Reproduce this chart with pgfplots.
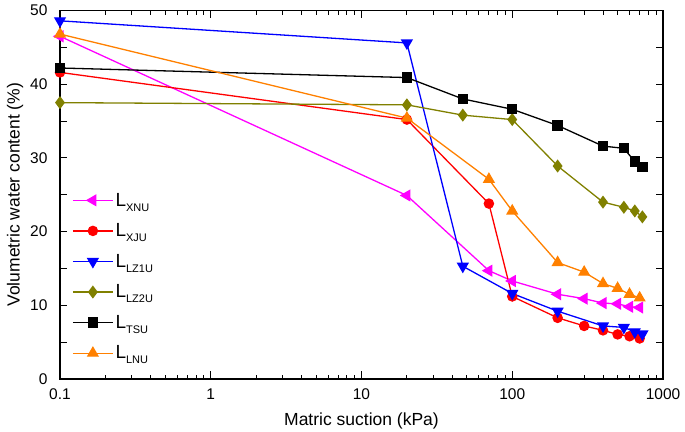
\documentclass[border=0pt]{standalone}
\usepackage{fontspec}
\setmainfont{Liberation Sans}
\usepackage{pgfplots}
\pgfplotsset{compat=1.18}
\definecolor{cmag}{RGB}{255,0,255}
\definecolor{cred}{RGB}{255,0,0}
\definecolor{cblue}{RGB}{0,0,255}
\definecolor{colive}{RGB}{128,128,0}
\definecolor{corange}{RGB}{255,128,0}
\newcommand{\Lsub}[1]{L\raisebox{-0.5ex}{\fontsize{11}{11}\selectfont #1}}
\begin{document}
\begin{tikzpicture}
\begin{axis}[
  scale only axis, width=603pt, height=368.5pt,
  xmode=log, xmin=0.1, xmax=1000, ymin=0, ymax=50,
  xtick={0.1,1,10,100,1000}, xticklabels={0.1,1,10,100,1000},
  ytick={0,5,...,50}, yticklabels={0,,10,,20,,30,,40,,50},
  tick align=inside, ticks=both,
  xtick pos=both, ytick pos=both,
  xticklabel pos=bottom, yticklabel pos=left,
  major tick length=7.5pt, minor tick length=4.3pt,
  every tick/.style={black, line width=1pt},
  axis line style={line width=1.4pt},
  /pgf/number format/assume math mode=true,
  tick label style={font=\fontsize{15.5}{18}\selectfont},
  xticklabel style={yshift=-6pt},
  yticklabel style={xshift=-9pt},
  xlabel={Matric suction (kPa)}, ylabel={Volumetric water content (\%)},
  label style={font=\fontsize{17.5}{20}\selectfont},
  xlabel style={yshift=-6pt},
  ylabel style={yshift=0pt},
  every axis plot/.append style={line width=1.3pt},
  legend image code/.code={\draw[mark repeat=2,mark phase=2] plot coordinates {(0pt,0pt) (20pt,0pt) (40pt,0pt)};},
  legend cell align=left,
  legend style={draw=none, fill=none, at={(0.015,0.516)}, anchor=north west,
    font=\fontsize{19}{21}\selectfont, row sep=12pt},
]
\addplot[cmag, mark=triangle*, mark options={rotate=90, solid}, mark size=5.8pt] coordinates {
(0.1,46.5) (20,24.9) (70,14.7) (100,13.3) (200,11.5) (300,10.9) (400,10.3) (500,10.2) (600,9.8) (700,9.7)};
\addlegendentry{\Lsub{XNU}}
\addplot[cred, mark=*, mark size=4.6pt] coordinates {
(0.1,41.6) (20,35.2) (70,23.8) (100,11.2) (200,8.3) (300,7.2) (400,6.6) (500,6.05) (600,5.8) (700,5.5)};
\addlegendentry{\Lsub{XJU}}
\addplot[cblue, mark=triangle*, mark options={rotate=180, solid}, mark size=5.8pt] coordinates {
(0.1,48.6) (20,45.6) (47,15.3) (100,11.6) (200,9.2) (400,7.2) (550,7.0) (650,6.4) (730,6.1)};
\addlegendentry{\Lsub{LZ1U}}
\addplot[colive, mark=diamond*, mark size=5.5pt] coordinates {
(0.1,37.5) (20,37.2) (47,35.8) (100,35.2) (200,28.9) (400,24.0) (550,23.3) (650,22.8) (730,22.0)};
\addlegendentry{\Lsub{LZ2U}}
\addplot[black, mark=square*, mark size=4.5pt] coordinates {
(0.1,42.2) (20,40.9) (47,38.0) (100,36.6) (200,34.4) (400,31.6) (550,31.3) (650,29.5) (730,28.8)};
\addlegendentry{\Lsub{TSU}}
\addplot[corange, mark=triangle*, mark size=5.8pt] coordinates {
(0.1,46.8) (20,35.4) (70,27.1) (100,22.8) (200,15.8) (300,14.5) (400,12.95) (500,12.3) (600,11.5) (700,11.0)};
\addlegendentry{\Lsub{LNU}}
\end{axis}
\pgfresetboundingbox
\path (current axis.south west) ++(-60pt,-53pt) coordinate (bl);
\path (current axis.north east) ++(22pt,10.5pt) coordinate (tr);
\path (bl) rectangle (tr);
\end{tikzpicture}
\end{document}
